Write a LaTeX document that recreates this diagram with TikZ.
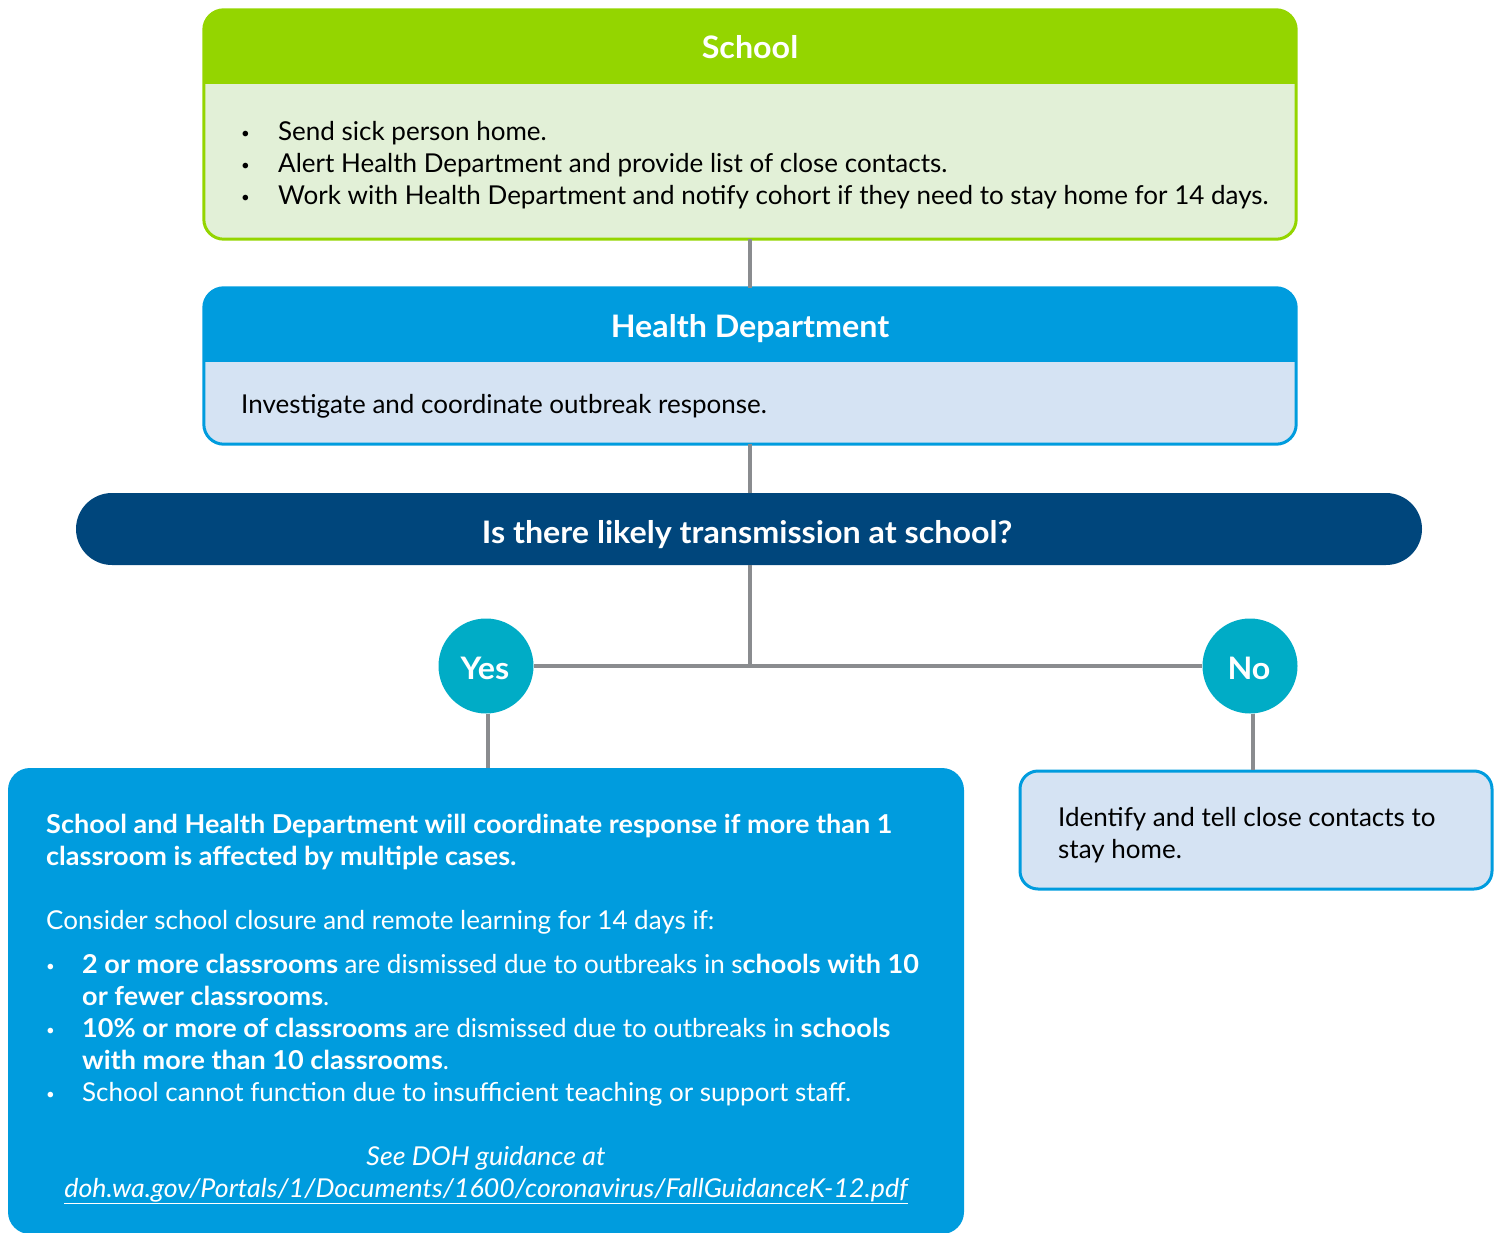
\documentclass[tikz,border=0pt]{standalone}
\usepackage{fontspec}
\setmainfont{Lato}[BoldFeatures={FakeStretch=1.04},ItalicFeatures={FakeStretch=1.03}]
\usetikzlibrary{calc}
\definecolor{grn}{RGB}{148,213,0}
\definecolor{grnl}{RGB}{226,240,215}
\definecolor{blu}{RGB}{0,156,222}
\definecolor{blul}{RGB}{213,227,243}
\definecolor{navy}{RGB}{0,70,124}
\definecolor{tealc}{RGB}{0,172,198}
\definecolor{gry}{RGB}{138,140,143}
\newcommand{\bodyfont}{\fontsize{26}{32}\selectfont}
\newcommand{\headfont}{\bfseries\fontsize{31}{34}\selectfont}
\newcommand{\bul}{\raisebox{2pt}{\fontsize{15}{15}\selectfont\textbullet}}
\begin{document}
\begin{tikzpicture}[x=1pt,y=-1pt,
  boxbase/.style={rectangle, inner sep=0pt, rounded corners=20pt},
  conn/.style={draw=gry, line width=4pt},
  answer/.style={circle, fill=tealc, minimum size=95pt, inner sep=0pt, text=white, font=\headfont},
  hdtext/.style={text=white, font=\headfont, inner sep=0pt, anchor=base},
  bodytext/.style={inner sep=0pt, anchor=north west, font=\bodyfont, text=black},
  wtext/.style={inner sep=0pt, anchor=north west, font=\bodyfont, text=white}
]
\useasboundingbox (0,0) rectangle (1504,1233);

% School box
\node[boxbase, fill=grnl, minimum width=1092pt, minimum height=229pt] (school) at (750,124.5) {};
\begin{scope}
\clip[rounded corners=20pt] (school.north west) rectangle (school.south east);
\fill[grn] (school.north west) rectangle ($(school.north east)+(0,74)$);
\end{scope}
\draw[grn, line width=3pt, rounded corners=20pt] (school.north west) rectangle (school.south east);
\node[hdtext] (schoolt) at (750,59) {School};
\node[bodytext] (schoolb) at (241,117.6) {\begin{tabular}{@{}p{37pt}@{}l@{}}
\bul & Send sick person home.\\
\bul & Alert Health Department and provide list of close contacts.\\
\bul & Work with Health Department and notify cohort if they need to stay home for 14 days.
\end{tabular}};

% Health Department box
\node[boxbase, fill=blul, minimum width=1092pt, minimum height=156pt] (hd) at (750,366) {};
\begin{scope}
\clip[rounded corners=20pt] (hd.north west) rectangle (hd.south east);
\fill[blu] (hd.north west) rectangle ($(hd.north east)+(0,74)$);
\end{scope}
\draw[blu, line width=3pt, rounded corners=20pt] (hd.north west) rectangle (hd.south east);
\node[hdtext] (hdt) at (750,337) {Health Department};
\node[bodytext, anchor=base west] (hdb) at (241,413) {Investigate and coordinate outbreak response.};

% Question
\node[rectangle, rounded corners=36pt, fill=navy, minimum width=1346pt, minimum height=72pt, inner sep=0pt] (q) at (749,529) {};
\node[hdtext] (qt) at (747,543) {Is there likely transmission at school?};

% Answers
\node[answer] (yes) at (486,666) {};
\node[hdtext] (yest) at (485,679) {Yes};
\node[answer] (no) at (1250,666) {};
\node[hdtext] (not) at (1249,679) {No};

% Yes box
\node[boxbase, fill=blu, minimum width=956pt, minimum height=466pt, rounded corners=22pt] (yesbox) at (486,1001) {};
\node[wtext, font=\bodyfont\bfseries] (yb1) at (46,810.6) {\begin{tabular}{@{}l@{}}
School and Health Department will coordinate response if more than 1\\classroom is affected by multiple cases.\end{tabular}};
\node[wtext, anchor=base west] (yb2) at (46,929) {Consider school closure and remote learning for 14 days if:};
\node[wtext] (yb3) at (46,950.6) {\begin{tabular}{@{}p{36pt}@{}l@{}}
\bul & \textbf{2 or more classrooms} are dismissed due to outbreaks in s\textbf{chools with 10}\\
 & \textbf{or fewer classrooms}.\\
\bul & \textbf{10\% or more of classrooms} are dismissed due to outbreaks in \textbf{schools}\\
 & \textbf{with more than 10 classrooms}.\\
\bul & School cannot function due to insufficient teaching or support staff.
\end{tabular}};
\node[wtext, font=\bodyfont\itshape, anchor=north] (yb4) at (486,1142.6) {\begin{tabular}{@{}c@{}}
See DOH guidance at\\\underline{doh.wa.gov/Portals/1/Documents/1600/coronavirus/FallGuidanceK-12.pdf}\end{tabular}};

% No box
\node[boxbase, fill=blul, draw=blu, line width=3pt, minimum width=472pt, minimum height=118pt, rounded corners=18pt] (nobox) at (1256,830) {};
\node[bodytext] (nob) at (1058,803.6) {\begin{tabular}{@{}l@{}}Identify and tell close contacts to\\stay home.\end{tabular}};

% Connectors
\coordinate (jn) at (hd.south |- yes.east);
\draw[conn] (school.south) -- (hd.north);
\draw[conn] (hd.south) -- (hd.south |- q.north);
\draw[conn] (hd.south |- q.south) -- (jn);
\draw[conn] (yes.east) -- (no.west);
\draw[conn] ([xshift=2pt]yes.south) -- ([xshift=2pt]yes.south |- yesbox.north);
\draw[conn] ([xshift=3pt]no.south) -- ([xshift=3pt]no.south |- nobox.north);
\end{tikzpicture}
\end{document}
